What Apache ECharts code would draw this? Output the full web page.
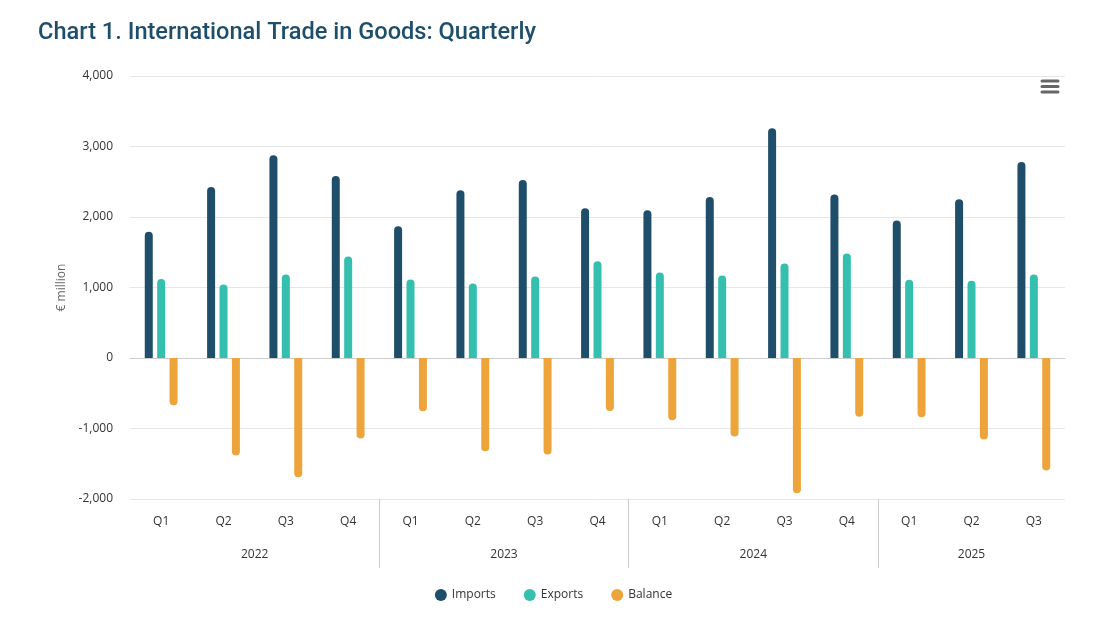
<!DOCTYPE html>
<html>
<head>
<meta charset="utf-8">
<script src="https://cdn.jsdelivr.net/npm/echarts@6/dist/echarts.min.js"></script>
<style>
html,body{margin:0;padding:0;background:#fff;}
#main{width:1107px;height:621px;}
</style>
</head>
<body>
<div id="main"></div>
<script>
// 数据
var quarters = ['Q1','Q2','Q3','Q4','Q1','Q2','Q3','Q4','Q1','Q2','Q3','Q4','Q1','Q2','Q3'];
var years = ['2022','2023','2024','2025'];
var yearCenters = [2, 6, 10, 13.5];
var yearBounds = [4, 8, 12];
var imports = [1790, 2427, 2875, 2582, 1870, 2380, 2526, 2125, 2096, 2285, 3258, 2318, 1950, 2252, 2780];
var exports = [1119, 1044, 1185, 1440, 1115, 1058, 1157, 1374, 1214, 1171, 1341, 1483, 1109, 1095, 1186];
var balance = [-671, -1383, -1690, -1142, -755, -1322, -1369, -751, -882, -1114, -1917, -835, -841, -1157, -1594];

var chart = echarts.init(document.getElementById('main'));
var labelFont = 'Open Sans';

var option = {
	title: {
		text: 'Chart 1. International Trade in Goods: Quarterly',
		left: 33,
		top: 16,
		textStyle: {
			fontFamily: 'Roboto',
			fontSize: 23.6,
			fontWeight: 500,
			color: '#1f4e6b'
		}
	},
	legend: {
		bottom: 15,
		left: 'center',
		icon: 'circle',
		itemWidth: 12,
		itemHeight: 12,
		itemGap: 28,
		textStyle: {fontFamily: labelFont, fontSize: 12, color: '#333'},
		data: ['Imports','Exports','Balance']
	},
	grid: {
		left: 130,
		right: 42,
		top: 76,
		bottom: 122
	},
	xAxis: [
		{
			type: 'category',
			data: quarters,
			position: 'bottom',
			axisLine: {lineStyle: {color: '#ccc'}},
			axisTick: {length: 11, lineStyle: {color: '#ccc'}},
			axisLabel: {fontFamily: labelFont, fontSize: 12, color: '#333', margin: 17}
		},
		{
			type: 'value',
			position: 'bottom',
			min: 0,
			max: 15,
			splitLine: {show: false},
			axisLine: {show: false},
			axisTick: {show: true, length: 69, customValues: yearBounds, lineStyle: {color: '#ccc'}},
			axisLabel: {
				customValues: yearCenters,
				fontFamily: labelFont, fontSize: 12, color: '#333', margin: 50,
				formatter: function(v){
					var i = yearCenters.indexOf(v);
					return i >= 0 ? years[i] : '';
				}
			}
		}
	],
	yAxis: {
		type: 'value',
		min: -2000,
		max: 4000,
		interval: 1000,
		name: '€ million',
		nameLocation: 'middle',
		nameGap: 61,
		nameTextStyle: {fontFamily: labelFont, fontSize: 12, color: '#666'},
		axisLabel: {
			fontFamily: labelFont, fontSize: 12, color: '#333', margin: 17,
			formatter: function(v){ return v.toLocaleString('en-US'); }
		},
		splitLine: {lineStyle: {color: '#e6e6e6'}},
		axisLine: {show: false},
		axisTick: {show: false}
	},
	series: [
		{
			name: 'Imports', type: 'bar', data: imports,
			barWidth: 8, barGap: '55%',
			itemStyle: {color: '#1f4e6b', borderRadius: [4,4,0,0]}
		},
		{
			name: 'Exports', type: 'bar', data: exports,
			barWidth: 8, barGap: '55%',
			itemStyle: {color: '#35bfae', borderRadius: [4,4,0,0]}
		},
		{
			name: 'Balance', type: 'bar', data: balance,
			barWidth: 8, barGap: '55%',
			itemStyle: {color: '#eda43a', borderRadius: [0,0,4,4]}
		}
	],
	graphic: [
		{
			type: 'group',
			left: 1036,
			top: 72,
			children: [
				{type: 'rect', shape: {x: 0, y: 0, width: 30, height: 26}, style: {fill: '#fff'}},
				{type: 'line', shape: {x1: 6, y1: 9, x2: 22, y2: 9}, style: {stroke: '#666', lineWidth: 3, lineCap: 'round'}},
				{type: 'line', shape: {x1: 6, y1: 14.5, x2: 22, y2: 14.5}, style: {stroke: '#666', lineWidth: 3, lineCap: 'round'}},
				{type: 'line', shape: {x1: 6, y1: 20, x2: 22, y2: 20}, style: {stroke: '#666', lineWidth: 3, lineCap: 'round'}}
			]
		}
	]
};
chart.setOption(option);
</script>
</body>
</html>
